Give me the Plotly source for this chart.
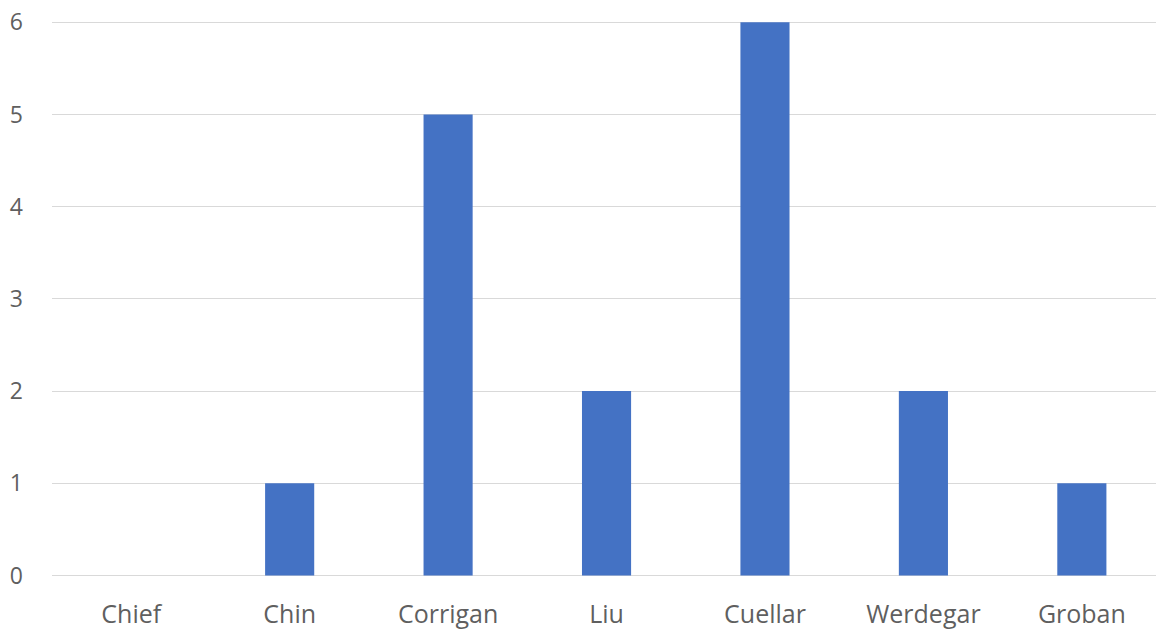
import plotly.graph_objects as go

# Count per name
names = ["Chief", "Chin", "Corrigan", "Liu", "Cuellar", "Werdegar", "Groban"]
counts = [0, 1, 5, 2, 6, 2, 1]
y_ticks = [0, 1, 2, 3, 4, 5, 6]

fig = go.Figure(
    go.Bar(
        x=list(range(len(names))),
        y=counts,
        marker=dict(color="#4472C4", line=dict(width=0)),
        width=0.31,
    )
)

font = dict(family="'Open Sans', sans-serif", size=24, color="#5f5f5f")

fig.update_layout(
    width=1156,
    height=633,
    margin=dict(l=52, r=0, t=13, b=57),
    paper_bgcolor="white",
    plot_bgcolor="white",
    showlegend=False,
    font=font,
)
fig.update_xaxes(
    range=[-0.5, 6.468],
    tickmode="array",
    tickvals=list(range(len(names))),
    ticktext=names,
    tickfont=dict(size=25),
    showgrid=False,
    zeroline=False,
    showline=False,
    ticks="",
    ticklabelstandoff=21,
)
fig.update_yaxes(
    range=[-0.005, 6.1],
    tickvals=y_ticks,
    tickfont=dict(size=23),
    showgrid=True,
    gridcolor="#D9D9D9",
    gridwidth=1,
    zeroline=True,
    zerolinecolor="#D9D9D9",
    zerolinewidth=1,
    showline=False,
    ticks="",
    ticklabelstandoff=28,
)

fig.write_html("out.html")
